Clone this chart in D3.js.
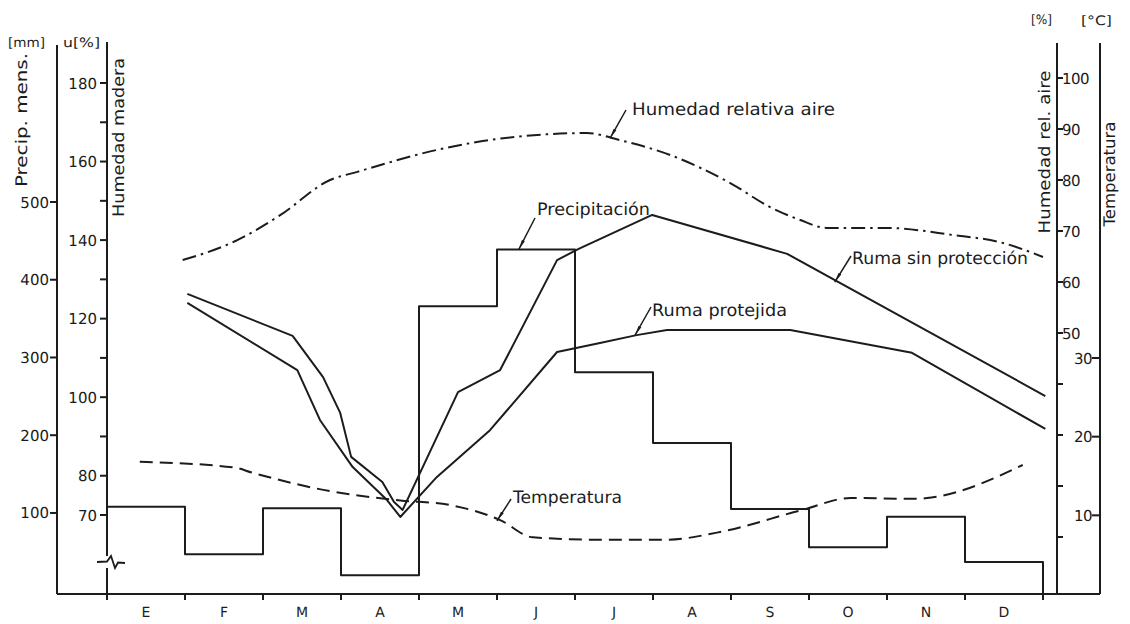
<!DOCTYPE html>
<html><head><meta charset="utf-8">
<script src="https://cdn.jsdelivr.net/npm/d3@7"></script>
<style>
body{margin:0;background:#fff}
svg{display:block}
text{font-family:"DejaVu Sans",sans-serif;fill:#1c1c1c;text-rendering:geometricPrecision}
</style>
</head><body>
<svg id="c" width="1130" height="624"></svg>
<script>
// ---------- data ----------
const months = ["E","F","M","A","M","J","J","A","S","O","N","D"];
const precip = [108,47,106,20,366,439,281,190,105,56,95,37];          // mm per month
const precipTicks = [100,200,300,400,500];
const uTicks = [70,80,100,120,140,160,180];
const uMinorTicks = [90,110,130,150,170];
const humTicks = [50,60,70,80,90,100];
const humMinorTicks = [10,20,30,40];
const tempTicks = [10,20,30];

// wood moisture, time in months from 1 January
const sinT = [1.03,2.38,2.77,2.99,3.13,3.53,3.68,3.79,4.50,5.04,5.77,6.04,6.99,8.72,12.03];
const sinU = [126.3,115.6,105.1,96.0,84.8,78.4,73.3,71.3,101.3,106.9,134.9,137.7,146.4,136.5,100.3];
const protT = [1.03,2.44,2.73,3.15,3.59,3.76,4.23,4.91,5.77,6.32,6.79,7.18,8.76,10.32,12.03];
const protU = [124.0,106.9,94.2,82.2,73.8,69.5,79.7,91.6,111.5,113.8,115.8,117.1,117.1,111.3,91.9];

// relative air humidity (%)
const humT = [0.97,1.67,2.22,2.86,3.21,4.23,5.08,6.15,6.58,7.22,7.99,8.50,8.88,9.23,10.0,10.85,11.45,12.0];
const humV = [64.3,68.2,73.1,80.0,81.6,85.9,88.2,89.2,87.8,84.9,79.4,74.7,72.2,70.6,70.6,69.2,67.8,64.9];

// temperature (°C)
const tempT = [0.42,1.62,1.87,2.90,3.76,4.40,5.04,5.46,6.32,7.18,7.82,8.92,9.53,10.38,10.59,11.74];
const tempV = [16.8,16.1,15.4,13.0,11.9,11.3,9.4,7.2,6.9,6.9,7.8,10.7,12.2,12.1,12.3,16.4];

// ---------- layout ----------
const svg = d3.select("#c");
const ink = "#1c1c1c";
const baseY = 594;
const xP = 57, xU = 107, xH = 1057, xTm = 1100, topY = 43;

const x = d3.scaleLinear().domain([0,12]).range([107,1043]);
const yP = d3.scaleLinear().domain([0,500]).range([590.7,202]);
const yU = d3.scaleLinear().domain([70,180]).range([515,83]);
const yH = d3.scaleLinear().domain([50,100]).range([333,78]);
const yT = d3.scaleLinear().domain([0,30]).range([594,358]);

svg.append("rect").attr("width",1130).attr("height",624).attr("fill","#fff");

const defs = svg.append("defs");
defs.append("marker").attr("id","arr").attr("viewBox","0 -3 10 6")
  .attr("refX",10).attr("refY",0).attr("markerWidth",10).attr("markerHeight",6)
  .attr("markerUnits","userSpaceOnUse").attr("orient","auto")
  .append("path").attr("d","M0,-1.6L10,0L0,1.6Z").attr("fill",ink);

// ---------- axes ----------
const g = svg.append("g").attr("stroke",ink).attr("stroke-width",2).attr("fill","none");
g.append("line").attr("x1",xP).attr("x2",xTm).attr("y1",baseY).attr("y2",baseY);
g.append("line").attr("x1",xP).attr("x2",xP).attr("y1",45).attr("y2",baseY);
g.append("line").attr("x1",xU).attr("x2",xU).attr("y1",42).attr("y2",556);
g.append("line").attr("x1",xU).attr("x2",xU).attr("y1",568).attr("y2",600);
g.append("path").attr("d","M97,562L107,561.5L111,556L115,568L118,562.5L125,563").attr("stroke-width",1.8);
g.append("line").attr("x1",xH).attr("x2",xH).attr("y1",topY).attr("y2",baseY);
g.append("line").attr("x1",xTm).attr("x2",xTm).attr("y1",topY).attr("y2",baseY);

// precipitation axis
precipTicks.forEach(v=>{
  g.append("line").attr("x1",xP-7).attr("x2",xP).attr("y1",yP(v)).attr("y2",yP(v));
  svg.append("text").attr("x",xP-8).attr("y",yP(v)+5.5).attr("text-anchor","end")
    .attr("font-size",15).text(v);
});
// wood moisture axis
uTicks.concat(uMinorTicks).forEach(v=>{
  g.append("line").attr("x1",xU-7).attr("x2",xU).attr("y1",yU(v)).attr("y2",yU(v));
});
uTicks.forEach(v=>{
  svg.append("text").attr("x",xU-10).attr("y",yU(v)+5.5).attr("text-anchor","end")
    .attr("font-size",15).text(v);
});
// humidity axis
humTicks.concat(humMinorTicks).forEach(v=>{
  g.append("line").attr("x1",xH).attr("x2",xH+6).attr("y1",yH(v)).attr("y2",yH(v));
});
humTicks.forEach(v=>{
  svg.append("text").attr("x",xH+5).attr("y",yH(v)+5.5).attr("text-anchor","start")
    .attr("font-size",15).attr("letter-spacing",-0.5).text(v);
});
// temperature axis
tempTicks.forEach(v=>{
  g.append("line").attr("x1",xTm-8).attr("x2",xTm).attr("y1",yT(v)).attr("y2",yT(v));
  svg.append("text").attr("x",xTm-8).attr("y",yT(v)+5.5).attr("text-anchor","end")
    .attr("font-size",15).attr("letter-spacing",-0.5).text(v);
});
// month ticks + labels
d3.range(13).forEach(i=>{
  g.append("line").attr("x1",x(i)).attr("x2",x(i)).attr("y1",baseY).attr("y2",baseY+6);
});
months.forEach((m,i)=>{
  svg.append("text").attr("x",x(i+0.5)).attr("y",617).attr("text-anchor","middle")
    .attr("font-size",14).text(m);
});

// units and axis titles
const unit = (t,xx,yy,len)=>svg.append("text").attr("x",xx).attr("y",yy).attr("font-size",13)
  .attr("textLength",len).attr("lengthAdjust","spacingAndGlyphs").text(t);
unit("[mm]",8,47,37);
unit("u[%]",63,47,37);
unit("[%]",1031,24,21);
unit("[°C]",1081,25,31);

const vtitle = (t,xx,yy,len)=>svg.append("text")
  .attr("transform",`translate(${xx},${yy}) rotate(-90)`).attr("text-anchor","middle")
  .attr("font-size",16).attr("textLength",len).attr("lengthAdjust","spacingAndGlyphs").text(t);
vtitle("Precip. mens.",27,120,134);
vtitle("Humedad madera",124,137.5,159);
vtitle("Humedad rel. aire",1050,152,163);
vtitle("Temperatura",1115,174,105);

// ---------- marks ----------
const lines = svg.append("g").attr("fill","none").attr("stroke",ink).attr("stroke-width",2)
  .attr("stroke-linejoin","round");

// precipitation step line
const pData = precip.map((v,i)=>[i,v]).concat([[12,precip[11]]]);
const stepPath = d3.line().x(d=>x(d[0])).y(d=>yP(d[1])).curve(d3.curveStepAfter)(pData)
  + `L${x(12)},${baseY+5}`;
lines.append("path").attr("d",stepPath);

// wood moisture lines
const lin = d3.line().x(d=>x(d[0])).y(d=>yU(d[1]));
lines.append("path").attr("d",lin(sinT.map((t,i)=>[t,sinU[i]])));
lines.append("path").attr("d",lin(protT.map((t,i)=>[t,protU[i]])));

// relative humidity (dash-dot)
lines.append("path").attr("stroke-dasharray","14 5 2.5 5")
  .attr("d",d3.line().x(d=>x(d[0])).y(d=>yH(d[1])).curve(d3.curveMonotoneX)(humT.map((t,i)=>[t,humV[i]])));

// temperature (dashed)
lines.append("path").attr("stroke-dasharray","13 7")
  .attr("d",d3.line().x(d=>x(d[0])).y(d=>yT(d[1])).curve(d3.curveMonotoneX)(tempT.map((t,i)=>[t,tempV[i]])));

// ---------- annotations ----------
function label(text, tip, from, tx, ty, len){
  svg.append("line").attr("x1",from[0]).attr("y1",from[1]).attr("x2",tip[0]).attr("y2",tip[1])
    .attr("stroke",ink).attr("stroke-width",1.5).attr("marker-end","url(#arr)");
  svg.append("text").attr("x",tx).attr("y",ty).attr("font-size",17)
    .attr("textLength",len).attr("lengthAdjust","spacingAndGlyphs").text(text);
}
label("Humedad relativa aire",[x(6.45),yH(88.2)],[626,110],632,115,203);
label("Precipitación",[x(5.28),yP(439)],[535,218],537,215,113);
label("Ruma sin protección",[x(9.33),yU(129.3)],[851,256],852,264,176);
label("Ruma protejida",[x(6.77),yU(115.8)],[651,307],652,316,135);
label("Temperatura",[x(5.0),yT(9.3)],[511,499],513,503,109);
</script>
</body></html>
